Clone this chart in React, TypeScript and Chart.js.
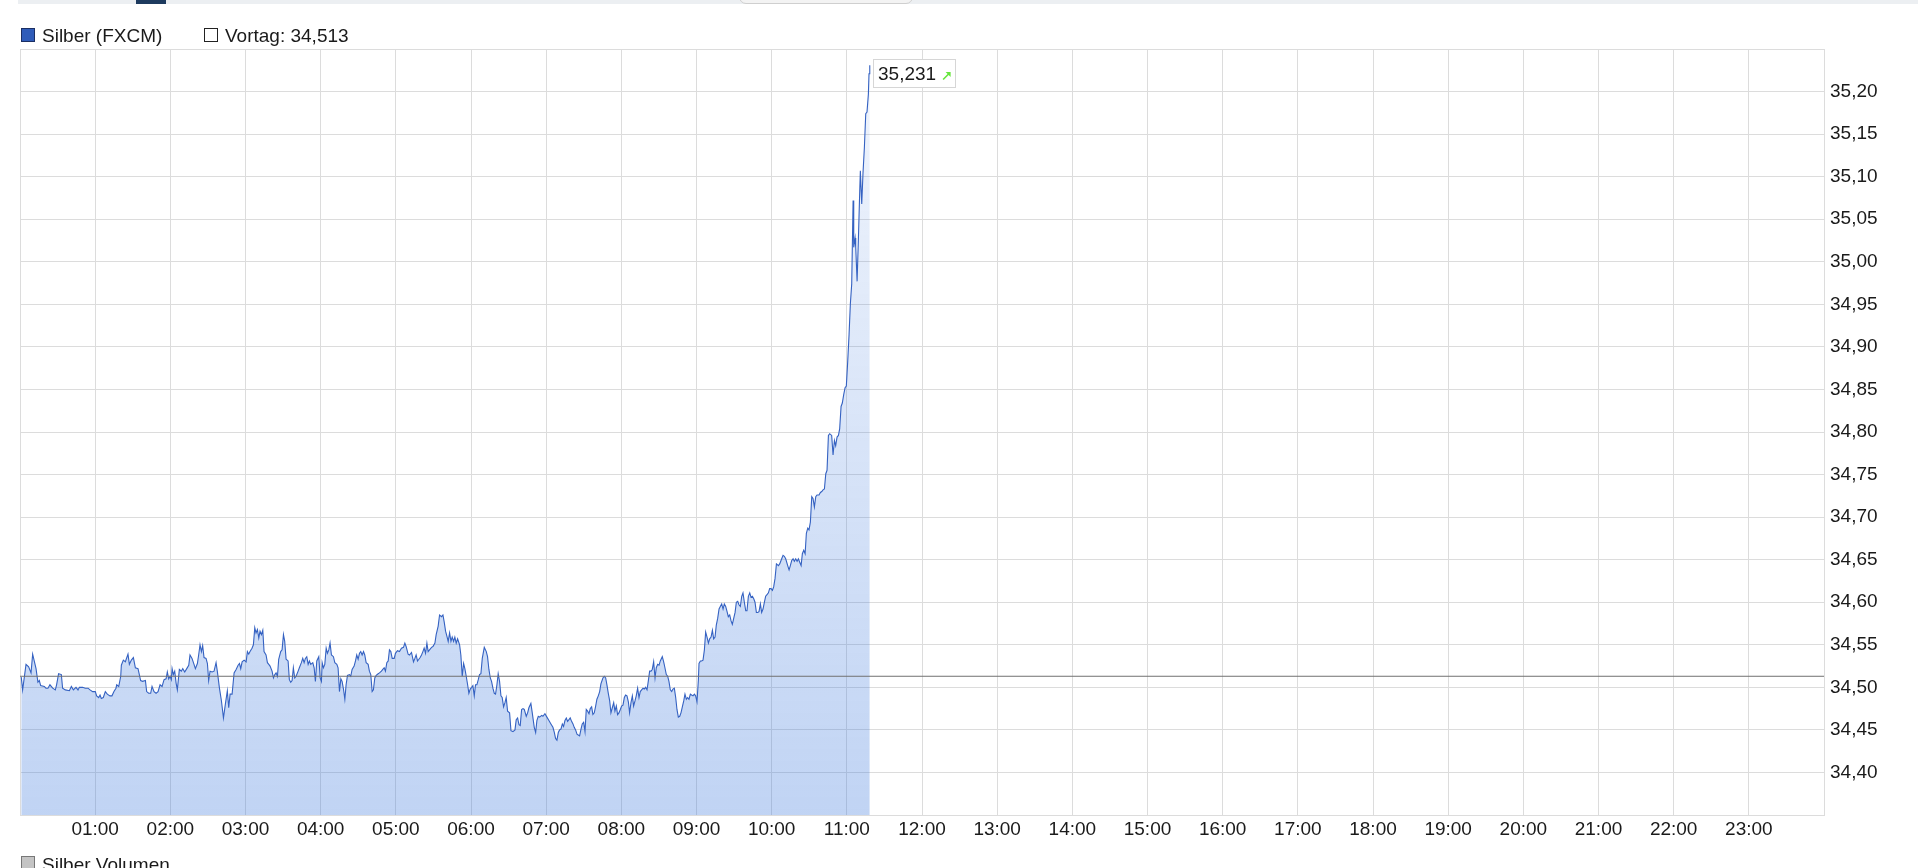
import React, { useEffect, useRef } from "react";
import { Chart, registerables } from "chart.js";

Chart.register(...registerables);

const SERIES_NAME = "Silber (FXCM)";
const PREV_LABEL = "Vortag";
const VOLUME_NAME = "Silber Volumen";
const PREV_CLOSE = 34.513;

// minutes since 00:00
const timesMin = [
  1.0, 2.1, 4.8, 6.9, 8.8, 10.1, 12.8, 14.3, 15.4, 16.5, 19.4, 20.7, 22.3, 23.9, 26.1, 28.2, 29.2, 30.8, 33.0, 34.0,
  36.2, 39.4, 41.0, 42.6, 44.7, 46.3, 47.4, 50.0, 52.1, 54.3, 55.9, 58.0, 60.1, 61.2, 62.8, 63.9, 64.9, 66.5, 68.1, 69.7,
  71.8, 73.4, 75.0, 76.6, 77.2, 78.8, 80.4, 80.9, 82.5, 84.1, 86.2, 87.3, 88.9, 90.5, 92.1, 94.2, 96.3, 97.9, 100.1, 101.1,
  102.7, 104.3, 105.4, 107.0, 108.6, 110.2, 111.8, 113.4, 115.0, 116.6, 117.6, 118.7, 119.8, 120.8, 121.4, 122.4, 123.5, 124.6, 125.6, 127.2,
  128.8, 129.9, 131.5, 133.1, 134.7, 135.7, 137.3, 138.9, 140.0, 141.6, 142.6, 143.7, 144.8, 145.8, 146.9, 148.5, 149.6, 150.6, 151.7, 153.3,
  154.9, 156.5, 157.5, 159.2, 160.8, 162.4, 163.9, 165.5, 166.6, 167.7, 169.3, 170.9, 172.5, 174.1, 175.2, 176.2, 177.3, 178.9, 180.5, 181.5,
  182.6, 183.6, 185.2, 186.3, 187.4, 188.4, 189.5, 190.6, 191.6, 192.7, 193.8, 194.8, 196.4, 197.5, 198.6, 199.6, 201.2, 202.3, 203.4, 204.4,
  205.5, 206.5, 208.1, 209.2, 210.3, 211.3, 212.4, 214.0, 215.0, 216.1, 217.2, 218.2, 219.3, 220.4, 222.0, 223.0, 224.6, 225.7, 226.8, 227.8,
  228.9, 230.0, 231.0, 232.1, 233.7, 234.8, 235.8, 236.9, 238.5, 239.6, 240.6, 241.2, 242.2, 243.3, 244.4, 245.4, 246.5, 247.5, 248.6, 250.2,
  251.3, 252.9, 253.9, 255.0, 256.1, 257.1, 258.2, 259.3, 260.3, 261.4, 263.0, 264.0, 265.1, 266.7, 267.8, 268.8, 269.9, 271.0, 272.0, 273.1,
  274.2, 275.2, 276.3, 277.9, 278.9, 280.0, 281.1, 282.1, 283.2, 284.3, 285.9, 286.9, 288.5, 289.6, 290.7, 291.7, 292.8, 293.9, 294.9, 296.0,
  297.1, 298.7, 299.7, 301.3, 302.9, 304.5, 306.1, 307.2, 308.2, 309.8, 310.9, 312.5, 314.1, 315.2, 316.2, 317.3, 318.4, 319.4, 320.5, 321.6,
  322.6, 323.7, 324.8, 325.8, 326.9, 328.5, 329.6, 331.2, 332.2, 333.8, 334.9, 336.5, 337.6, 338.6, 339.7, 340.8, 341.8, 342.9, 344.0, 345.0,
  346.1, 347.1, 348.2, 349.3, 350.9, 351.9, 353.0, 354.1, 355.1, 356.2, 357.3, 358.3, 359.4, 360.5, 361.5, 362.6, 363.6, 364.7, 365.8, 366.8,
  367.9, 369.0, 370.6, 372.2, 373.2, 374.3, 375.4, 376.4, 377.5, 378.6, 379.6, 380.7, 381.7, 382.8, 383.9, 384.9, 386.0, 387.1, 388.1, 389.2,
  390.8, 391.9, 393.5, 395.1, 396.1, 397.2, 398.3, 399.3, 400.4, 401.5, 402.5, 404.1, 405.2, 406.2, 407.8, 408.9, 410.5, 411.6, 412.6, 413.7,
  414.8, 416.4, 417.4, 419.0, 420.6, 422.2, 423.8, 425.4, 426.5, 427.5, 428.6, 429.7, 430.7, 431.8, 432.9, 433.9, 435.0, 436.1, 437.1, 438.2,
  439.2, 440.3, 441.4, 442.4, 443.5, 444.6, 445.6, 446.7, 447.8, 448.8, 449.9, 451.0, 452.0, 453.1, 454.2, 455.2, 456.3, 457.3, 458.4, 459.5,
  460.5, 461.6, 462.7, 463.7, 465.3, 466.4, 467.5, 468.5, 469.6, 470.7, 471.7, 472.8, 473.9, 474.9, 476.0, 477.0, 478.1, 479.2, 480.2, 481.3,
  482.4, 483.4, 484.5, 485.6, 486.6, 487.7, 488.8, 489.8, 490.9, 491.9, 493.0, 494.1, 495.1, 496.2, 497.3, 498.3, 499.4, 500.5, 501.5, 502.6,
  503.7, 504.7, 505.8, 506.9, 507.9, 509.0, 510.1, 511.1, 512.7, 513.8, 514.8, 515.9, 517.0, 518.0, 519.1, 520.2, 521.2, 522.3, 523.4, 524.4,
  525.5, 526.6, 527.6, 528.7, 529.8, 530.8, 531.9, 532.9, 534.0, 535.1, 536.1, 537.2, 538.3, 539.3, 540.4, 541.5, 542.0, 543.1, 544.1, 545.2,
  546.3, 547.3, 548.4, 549.5, 550.5, 551.6, 552.7, 553.7, 554.8, 555.8, 556.9, 558.0, 559.0, 560.1, 561.2, 562.2, 563.3, 564.4, 565.4, 566.5,
  567.6, 568.6, 569.7, 570.8, 571.8, 572.9, 573.9, 575.0, 576.1, 577.1, 578.2, 579.3, 580.3, 581.4, 582.5, 583.5, 584.6, 585.7, 586.7, 587.8,
  588.9, 589.9, 591.0, 592.0, 593.1, 594.2, 595.2, 596.3, 597.4, 598.4, 599.5, 600.6, 601.6, 602.7, 603.8, 605.4, 606.4, 608.0, 609.1, 610.1,
  611.2, 612.8, 613.9, 614.9, 616.0, 617.1, 618.1, 619.2, 620.3, 621.3, 622.4, 623.5, 624.5, 625.6, 626.7, 627.7, 628.8, 629.8, 630.9, 632.0,
  633.0, 634.1, 635.2, 636.2, 637.8, 638.9, 640.0, 641.0, 642.1, 643.2, 644.2, 645.3, 646.3, 647.9, 649.0, 650.1, 651.1, 652.2, 653.3, 654.3,
  655.4, 656.4, 657.5, 658.6, 659.6, 660.7, 661.8, 662.8, 663.9, 665.0, 665.5, 666.6, 667.1, 668.2, 669.2, 670.3, 670.8, 671.9, 672.9, 674.0,
  675.1, 676.1, 677.2, 677.7, 678.3,
];

const prices = [
  34.512, 34.497, 34.527, 34.524, 34.517, 34.539, 34.522, 34.506, 34.508, 34.502, 34.501, 34.499, 34.499, 34.503, 34.499, 34.497, 34.503, 34.516, 34.515, 34.499,
  34.497, 34.496, 34.501, 34.497, 34.500, 34.497, 34.500, 34.500, 34.499, 34.499, 34.497, 34.495, 34.495, 34.490, 34.488, 34.491, 34.487, 34.488, 34.495, 34.492,
  34.490, 34.490, 34.495, 34.499, 34.503, 34.501, 34.513, 34.526, 34.532, 34.530, 34.539, 34.527, 34.532, 34.535, 34.523, 34.522, 34.508, 34.507, 34.508, 34.495,
  34.493, 34.493, 34.501, 34.495, 34.493, 34.495, 34.503, 34.501, 34.509, 34.510, 34.518, 34.510, 34.513, 34.509, 34.522, 34.515, 34.519, 34.505, 34.497, 34.521,
  34.519, 34.522, 34.518, 34.522, 34.526, 34.538, 34.534, 34.527, 34.522, 34.528, 34.538, 34.550, 34.542, 34.549, 34.535, 34.534, 34.528, 34.508, 34.519, 34.518,
  34.519, 34.529, 34.519, 34.499, 34.484, 34.464, 34.480, 34.496, 34.476, 34.492, 34.492, 34.517, 34.521, 34.526, 34.528, 34.522, 34.530, 34.532, 34.530, 34.542,
  34.539, 34.542, 34.546, 34.550, 34.570, 34.564, 34.568, 34.558, 34.566, 34.562, 34.567, 34.542, 34.538, 34.529, 34.527, 34.525, 34.519, 34.511, 34.515, 34.517,
  34.513, 34.533, 34.542, 34.544, 34.562, 34.554, 34.533, 34.531, 34.509, 34.506, 34.508, 34.523, 34.511, 34.513, 34.519, 34.523, 34.529, 34.534, 34.529, 34.534,
  34.536, 34.527, 34.531, 34.527, 34.529, 34.523, 34.507, 34.531, 34.536, 34.511, 34.507, 34.529, 34.523, 34.527, 34.546, 34.540, 34.544, 34.552, 34.538, 34.536,
  34.529, 34.527, 34.523, 34.495, 34.510, 34.507, 34.498, 34.486, 34.503, 34.514, 34.515, 34.513, 34.521, 34.525, 34.531, 34.538, 34.533, 34.540, 34.542, 34.538,
  34.542, 34.538, 34.529, 34.527, 34.519, 34.515, 34.495, 34.497, 34.511, 34.514, 34.516, 34.517, 34.519, 34.521, 34.523, 34.519, 34.529, 34.531, 34.544, 34.542,
  34.534, 34.534, 34.540, 34.543, 34.542, 34.546, 34.547, 34.552, 34.548, 34.539, 34.538, 34.541, 34.530, 34.534, 34.538, 34.531, 34.533, 34.535, 34.538, 34.542,
  34.546, 34.540, 34.552, 34.542, 34.544, 34.547, 34.548, 34.552, 34.562, 34.572, 34.585, 34.583, 34.585, 34.577, 34.566, 34.560, 34.554, 34.564, 34.554, 34.559,
  34.554, 34.559, 34.552, 34.557, 34.550, 34.538, 34.513, 34.528, 34.522, 34.513, 34.503, 34.493, 34.498, 34.500, 34.502, 34.490, 34.503, 34.503, 34.509, 34.515,
  34.516, 34.534, 34.547, 34.542, 34.536, 34.521, 34.511, 34.507, 34.499, 34.493, 34.492, 34.503, 34.516, 34.507, 34.490, 34.488, 34.477, 34.482, 34.488, 34.472,
  34.470, 34.449, 34.448, 34.450, 34.462, 34.464, 34.456, 34.455, 34.474, 34.475, 34.474, 34.466, 34.470, 34.476, 34.481, 34.470, 34.453, 34.447, 34.461, 34.466,
  34.465, 34.467, 34.466, 34.469, 34.465, 34.461, 34.457, 34.453, 34.447, 34.440, 34.438, 34.447, 34.450, 34.451, 34.457, 34.454, 34.461, 34.464, 34.460, 34.462,
  34.464, 34.460, 34.457, 34.453, 34.450, 34.445, 34.444, 34.443, 34.451, 34.457, 34.459, 34.448, 34.474, 34.472, 34.469, 34.475, 34.477, 34.468, 34.470, 34.478,
  34.486, 34.490, 34.495, 34.504, 34.511, 34.513, 34.511, 34.503, 34.493, 34.484, 34.470, 34.476, 34.482, 34.472, 34.478, 34.468, 34.470, 34.474, 34.478, 34.479,
  34.488, 34.491, 34.490, 34.483, 34.470, 34.482, 34.490, 34.478, 34.484, 34.490, 34.499, 34.488, 34.495, 34.497, 34.499, 34.498, 34.500, 34.497, 34.507, 34.519,
  34.519, 34.521, 34.530, 34.511, 34.523, 34.527, 34.526, 34.531, 34.536, 34.530, 34.523, 34.515, 34.513, 34.507, 34.497, 34.495, 34.498, 34.499, 34.488, 34.474,
  34.465, 34.466, 34.470, 34.477, 34.484, 34.492, 34.486, 34.488, 34.486, 34.492, 34.491, 34.490, 34.492, 34.490, 34.483, 34.509, 34.528, 34.531, 34.531, 34.532,
  34.544, 34.565, 34.559, 34.552, 34.557, 34.559, 34.567, 34.557, 34.559, 34.573, 34.581, 34.592, 34.595, 34.598, 34.592, 34.598, 34.595, 34.589, 34.583, 34.585,
  34.578, 34.574, 34.581, 34.588, 34.600, 34.601, 34.597, 34.595, 34.607, 34.611, 34.600, 34.590, 34.590, 34.607, 34.611, 34.606, 34.607, 34.604, 34.600, 34.588,
  34.588, 34.589, 34.598, 34.588, 34.592, 34.600, 34.607, 34.609, 34.611, 34.616, 34.616, 34.614, 34.618, 34.628, 34.645, 34.643, 34.645, 34.651, 34.655, 34.654,
  34.651, 34.643, 34.638, 34.643, 34.649, 34.651, 34.648, 34.651, 34.648, 34.651, 34.647, 34.643, 34.657, 34.661, 34.657, 34.681, 34.687, 34.685, 34.694, 34.724,
  34.722, 34.712, 34.724, 34.726, 34.726, 34.729, 34.730, 34.732, 34.733, 34.751, 34.755, 34.796, 34.798, 34.796, 34.773, 34.790, 34.784, 34.794, 34.796, 34.804,
  34.830, 34.834, 34.844, 34.852, 34.854, 34.883, 34.915, 34.950, 34.974, 35.072, 35.017, 35.028, 35.017, 34.977, 35.025, 35.083, 35.107, 35.068, 35.104, 35.134,
  35.174, 35.176, 35.197, 35.221, 35.231,
];

const xTickLabels = [
  "01:00", "02:00", "03:00", "04:00", "05:00", "06:00", "07:00", "08:00", "09:00", "10:00", "11:00", "12:00",
  "13:00", "14:00", "15:00", "16:00", "17:00", "18:00", "19:00", "20:00", "21:00", "22:00", "23:00",
];

const yTickValues = [
  34.4, 34.45, 34.5, 34.55, 34.6, 34.65, 34.7, 34.75, 34.8, 34.85, 34.9, 34.95, 35.0, 35.05, 35.1, 35.15, 35.2,
];

const Y_MIN = 34.35;
const Y_MAX = 35.25;
const X_MIN = 0;
const X_MAX = 1440;

const FONT = '"Liberation Sans", Arial, sans-serif';
const FONT_SIZE = 19;
const TEXT_COLOR = "#1a1a1a";
const GRID_COLOR = "#dcdcdc";

const deNum = (v: number, d: number) => v.toFixed(d).replace(".", ",");

const lastLabelPlugin = {
  id: "lastLabel",
  afterDatasetsDraw(chart: any) {
    const meta = chart.getDatasetMeta(0);
    const pts = meta.data;
    if (!pts || !pts.length) return;
    const p = pts[pts.length - 1];
    const val = prices[prices.length - 1];
    const ctx = chart.ctx;
    const text = deNum(val, 3);
    ctx.save();
    ctx.font = `${FONT_SIZE}px ${FONT}`;
    const tw = ctx.measureText(text).width;
    const left = Math.round(p.x + 3) + 0.5;
    const top = Math.round(p.y - 6) + 0.5;
    const w = Math.round(5 + tw + 19);
    const h = 28;
    ctx.fillStyle = "#ffffff";
    ctx.fillRect(left, top, w, h);
    ctx.strokeStyle = "#d6d6d6";
    ctx.lineWidth = 1;
    ctx.strokeRect(left, top, w, h);
    ctx.fillStyle = TEXT_COLOR;
    ctx.textBaseline = "alphabetic";
    ctx.textAlign = "left";
    ctx.fillText(text, left + 4.5, top + 20.5);
    // green up arrow
    const ax = left + 4.5 + tw + 7;
    const ay = top + 20;
    ctx.strokeStyle = "#66e63c";
    ctx.fillStyle = "#66e63c";
    ctx.lineWidth = 1.6;
    ctx.beginPath();
    ctx.moveTo(ax, ay);
    ctx.lineTo(ax + 6, ay - 6);
    ctx.stroke();
    ctx.beginPath();
    ctx.moveTo(ax + 7.5, ay - 7.5);
    ctx.lineTo(ax + 2.5, ay - 7.5);
    ctx.lineTo(ax + 7.5, ay - 2.5);
    ctx.closePath();
    ctx.fill();
    ctx.restore();
  },
};

export default function App() {
  const ref = useRef<HTMLCanvasElement | null>(null);

  useEffect(() => {
    const canvas = ref.current;
    if (!canvas) return;
    const points = timesMin.map((t, i) => ({ x: t, y: prices[i] }));
    const prevLine = [
      { x: X_MIN, y: PREV_CLOSE },
      { x: X_MAX, y: PREV_CLOSE },
    ];

    const chart = new Chart(canvas, {
      type: "line",
      data: {
        datasets: [
          {
            label: SERIES_NAME,
            data: points,
            borderColor: "#3562c2",
            borderWidth: 1.1,
            pointRadius: 0,
            tension: 0,
            fill: "start",
            backgroundColor: (c: any) => {
              const area = c.chart.chartArea;
              if (!area) return "rgba(60,120,220,0.25)";
              const g = c.chart.ctx.createLinearGradient(0, area.top, 0, area.bottom);
              g.addColorStop(0, "rgba(60,120,220,0.07)");
              g.addColorStop(1, "rgba(60,120,220,0.32)");
              return g;
            },
            order: 2,
          },
          {
            label: PREV_LABEL,
            data: prevLine,
            borderColor: "#707070",
            borderWidth: 1,
            pointRadius: 0,
            fill: false,
            order: 1,
          },
        ],
      },
      options: {
        animation: false,
        responsive: false,
        devicePixelRatio: 1,
        layout: { padding: { left: 20, top: 49, right: 0, bottom: 0 } },
        plugins: { legend: { display: false }, tooltip: { enabled: false } },
        scales: {
          x: {
            type: "linear",
            min: X_MIN,
            max: X_MAX,
            afterBuildTicks: (s: any) => {
              const t = [{ value: X_MIN }];
              xTickLabels.forEach((_, i) => t.push({ value: (i + 1) * 60 }));
              t.push({ value: X_MAX });
              s.ticks = t;
            },
            afterFit: (s: any) => {
              s.height = 53;
            },
            ticks: {
              autoSkip: false,
              maxRotation: 0,
              padding: 3,
              color: TEXT_COLOR,
              font: { family: FONT, size: FONT_SIZE },
              callback: (v: any) => {
                const i = Math.round(Number(v) / 60) - 1;
                return i >= 0 && i < xTickLabels.length ? xTickLabels[i] : "";
              },
            },
            grid: { color: GRID_COLOR, drawTicks: false },
            border: { color: GRID_COLOR },
          },
          y: {
            type: "linear",
            position: "right",
            min: Y_MIN,
            max: Y_MAX,
            afterBuildTicks: (s: any) => {
              s.ticks = [Y_MIN, ...yTickValues, Y_MAX].map((v) => ({ value: v }));
            },
            afterFit: (s: any) => {
              s.width = 94;
            },
            ticks: {
              padding: 6,
              color: TEXT_COLOR,
              font: { family: FONT, size: FONT_SIZE },
              callback: (v: any) => {
                const n = Number(v);
                const hit = yTickValues.find((t) => Math.abs(t - n) < 1e-6);
                return hit === undefined ? "" : deNum(hit, 2);
              },
            },
            grid: { color: GRID_COLOR, drawTicks: false },
            border: { color: GRID_COLOR },
          },
        },
      },
      plugins: [lastLabelPlugin],
    } as any);
    return () => chart.destroy();
  }, []);

  const txt: React.CSSProperties = {
    position: "absolute",
    fontFamily: FONT,
    fontSize: FONT_SIZE,
    lineHeight: `${FONT_SIZE}px`,
    color: TEXT_COLOR,
    whiteSpace: "nowrap",
  };

  return (
    <div style={{ position: "fixed", left: 0, top: 0, width: 1918, height: 868, background: "#fff", overflow: "hidden" }}>
      <div style={{ position: "absolute", left: 18, top: 0, width: 1900, height: 4, background: "#eceff2" }} />
      <div style={{ position: "absolute", left: 136, top: 0, width: 30, height: 4, background: "#1d3a5e" }} />
      <div
        style={{
          position: "absolute",
          left: 739,
          top: -6,
          width: 172,
          height: 8,
          background: "#f3f3f3",
          border: "1px solid #cfcfcf",
          borderRadius: "0 0 7px 7px",
        }}
      />
      <canvas ref={ref} width={1918} height={868} style={{ position: "absolute", left: 0, top: 0, width: 1918, height: 868 }} />
      <div style={{ position: "absolute", left: 21, top: 28, width: 12, height: 12, background: "#2f5cb9", border: "1px solid #1b2f63" }} />
      <div style={{ ...txt, left: 42, top: 26 }}>{SERIES_NAME}</div>
      <div style={{ position: "absolute", left: 204, top: 28, width: 12, height: 12, background: "#fff", border: "1px solid #222" }} />
      <div style={{ ...txt, left: 225, top: 26 }}>{`${PREV_LABEL}: ${deNum(PREV_CLOSE, 3)}`}</div>
      <div style={{ position: "absolute", left: 21, top: 856, width: 12, height: 12, background: "#c4c4c4", border: "1px solid #777" }} />
      <div style={{ ...txt, left: 42, top: 855 }}>{VOLUME_NAME}</div>
    </div>
  );
}
